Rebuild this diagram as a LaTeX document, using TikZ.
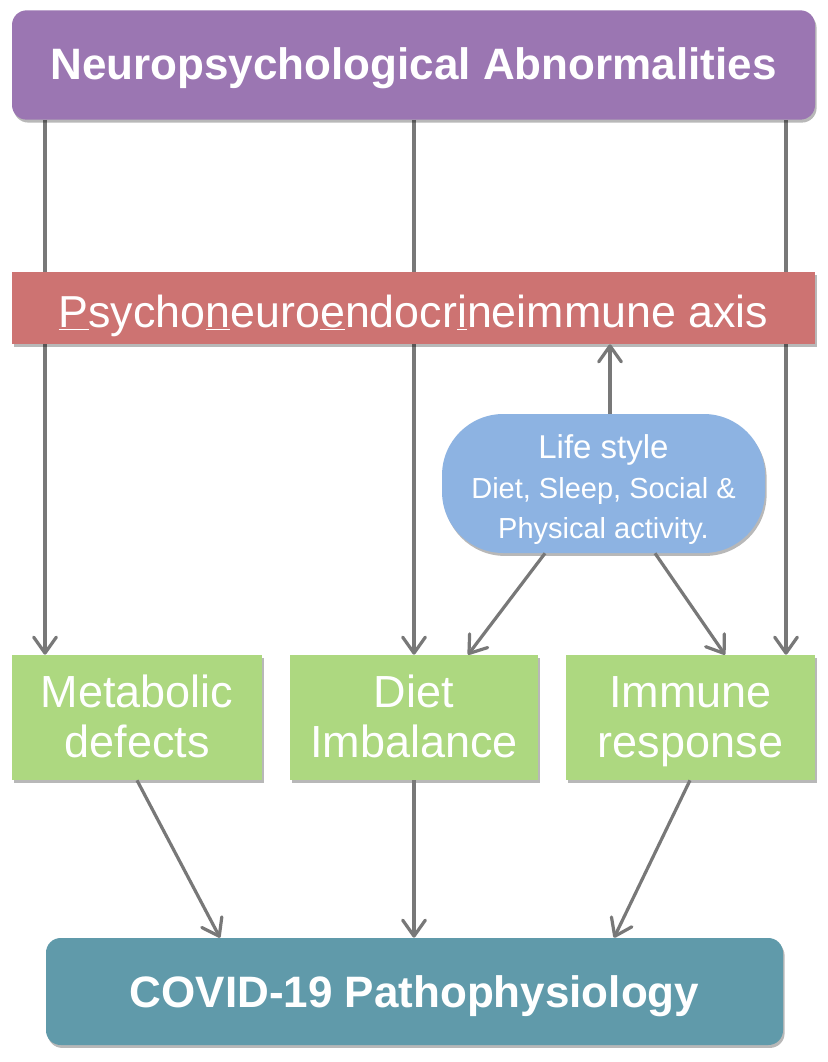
\documentclass[tikz,border=0pt]{standalone}
\usepackage{fontspec}
\setmainfont{Liberation Sans}
\usetikzlibrary{arrows.meta,shadows}
\definecolor{cpurple}{RGB}{155,118,178}
\definecolor{cred}{RGB}{205,115,114}
\definecolor{cblue}{RGB}{141,179,226}
\definecolor{cgreen}{RGB}{173,216,128}
\definecolor{cteal}{RGB}{96,154,170}
\definecolor{carrow}{RGB}{120,120,120}
\pgfdeclarelayer{bg}
\pgfsetlayers{bg,main}
\tikzset{
  boxshadow/.style={drop shadow={shadow xshift=1.2pt,shadow yshift=-2.2pt,opacity=0.28,fill=black}},
  box/.style={inner sep=0pt,text=white,boxshadow},
  titlebox/.style={box,rounded corners=11pt,minimum height=82pt,
    font=\fontsize{33}{36}\selectfont\bfseries,text height=22.5pt,text depth=0pt},
  axisbox/.style={box,fill=cred,minimum width=602.25pt,minimum height=54pt,
    font=\fontsize{33.6}{36}\selectfont,text height=28.5pt,text depth=0pt},
  effbox/.style={box,fill=cgreen,minimum height=93.75pt,align=center,
    font=\fontsize{33.75}{37.5}\selectfont,text height=59.25pt,text depth=0pt},
  lifebox/.style={box,fill=cblue,rounded corners=46pt,minimum width=242.25pt,
    minimum height=104.25pt,align=center,font=\fontsize{21.75}{30}\selectfont,
    text height=81.75pt,text depth=0pt},
  arr/.style={draw=carrow,line width=2.4pt,
    -{Straight Barb[length=12pt,width=17pt,line width=2.4pt,round]}}
}
\begin{document}
\begin{tikzpicture}[x=0.75pt,y=-0.75pt]
\useasboundingbox (0,0) rectangle (827,1062);

\node[titlebox,fill=cpurple,minimum width=602.25pt] (neuro) at (413.5,65)
  {Neuropsychological Abnormalities};
\node[axisbox] (axis) at (413.5,308)
  {\underline{P}sycho\underline{n}euro\underline{e}ndocr\underline{i}neimmune axis};
\node[lifebox] (life) at (603.5,483.5)
  {{\fontsize{24.75}{30}\selectfont Life style}\\Diet, Sleep, Social \&\\Physical activity.};
\node[effbox,minimum width=187.5pt] (metab) at (137,717.5) {Metabolic\\defects};
\node[effbox,minimum width=186pt] (diet) at (414,717.5) {Diet\\Imbalance};
\node[effbox,minimum width=186.75pt] (immune) at (690.5,717.5) {Immune\\response};
\node[titlebox,fill=cteal,minimum width=552.75pt,minimum height=80.25pt,
  text height=23.25pt] (covid) at (414.5,991.5) {COVID-19 Pathophysiology};

\coordinate (v1) at (45,0);
\coordinate (v2) at (414,0);
\coordinate (v3) at (786,0);
\coordinate (lu) at (610,0);
\coordinate (ls1) at (545,0);
\coordinate (dt) at (468,0);
\coordinate (ls2) at (655,0);
\coordinate (it) at (725,0);
\coordinate (ms) at (137,0);
\coordinate (ct1) at (220,0);
\coordinate (ct2) at (414,0);
\coordinate (is) at (690,0);
\coordinate (ct3) at (614,0);

\begin{pgfonlayer}{bg}
\fill[white] (0,0) rectangle (827,1062);
\draw[arr] (neuro.south -| v1) -- (metab.north -| v1);
\draw[arr] (neuro.south -| v2) -- (diet.north -| v2);
\draw[arr] (neuro.south -| v3) -- (immune.north -| v3);
\end{pgfonlayer}
\draw[arr] (life.north -| lu) -- (axis.south -| lu);
\draw[arr] (life.south -| ls1) -- (diet.north -| dt);
\draw[arr] (life.south -| ls2) -- (immune.north -| it);
\draw[arr] (metab.south -| ms) -- (covid.north -| ct1);
\draw[arr] (diet.south -| ct2) -- (covid.north -| ct2);
\draw[arr] (immune.south -| is) -- (covid.north -| ct3);
\end{tikzpicture}
\end{document}
